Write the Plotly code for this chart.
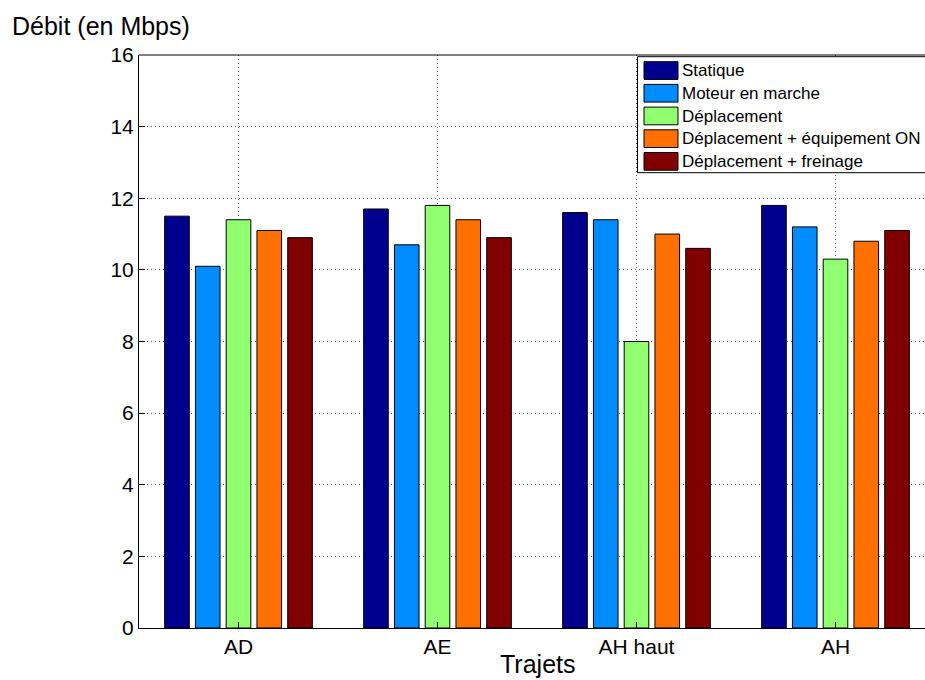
import plotly.graph_objects as go

categories = ["AD", "AE", "AH haut", "AH"]
series_names = ["Statique", "Moteur en marche", "Déplacement",
                "Déplacement + équipement ON", "Déplacement + freinage"]
statique = [11.5, 11.7, 11.6, 11.8]
moteur = [10.1, 10.7, 11.4, 11.2]
deplacement = [11.4, 11.8, 8.0, 10.3]
equipement = [11.1, 11.4, 11.0, 10.8]
freinage = [10.9, 10.9, 10.6, 11.1]
colors = ["#00008F", "#008CFF", "#90FF70", "#FF7000", "#800000"]
y_ticks = [0, 2, 4, 6, 8, 10, 12, 14, 16]

series = [statique, moteur, deplacement, equipement, freinage]

fig = go.Figure()
for name, vals, col in zip(series_names, series, colors):
    fig.add_trace(go.Bar(
        x=list(range(len(categories))), y=vals, name=name, showlegend=False,
        marker=dict(color=col, line=dict(color="black", width=1)),
    ))

font = "Liberation Sans, Arial, sans-serif"

# plot area in screen px (axes extend slightly beyond the visible window)
PL, PR_W, PT, PB = 139, 796, 55, 628
PH = PB - PT


def px(sx):
    return (sx - PL) / PR_W


def py(sy):
    return (PB - sy) / PH


shapes = [dict(type="line", xref="paper", yref="paper", x0=0, x1=1,
               y0=1, y1=1, line=dict(color="black", width=1))]
annotations = []

# legend box
shapes.append(dict(type="rect", xref="paper", yref="paper",
                   x0=px(637.5), x1=px(934), y0=py(172.7), y1=py(56.7),
                   fillcolor="white", line=dict(color="black", width=1),
                   layer="above"))
for i, (name, col) in enumerate(zip(series_names, colors)):
    top = 61.7 + 22.7 * i
    shapes.append(dict(type="rect", xref="paper", yref="paper",
                       x0=px(644), x1=px(678), y0=py(top + 17.7), y1=py(top),
                       fillcolor=col, line=dict(color="black", width=1),
                       layer="above"))
    annotations.append(dict(text=name, xref="paper", yref="paper",
                            x=px(680), y=py(top + 9), xanchor="left",
                            yanchor="middle", showarrow=False,
                            font=dict(size=17, family=font, color="black")))

annotations.append(dict(text="Débit (en Mbps)", xref="paper", yref="paper",
                        x=px(10), y=py(26), xanchor="left", yanchor="middle",
                        showarrow=False, font=dict(size=25, family=font)))
annotations.append(dict(text="Trajets", xref="paper", yref="paper",
                        x=px(537), y=py(664), xanchor="center", yanchor="middle",
                        showarrow=False, font=dict(size=25, family=font)))

fig.update_layout(
    width=935, height=680,
    margin=dict(l=139, r=0, t=55, b=52),
    paper_bgcolor="white", plot_bgcolor="white",
    barmode="group", bargap=0.227, bargroupgap=0.2,
    font=dict(family=font, size=21, color="black"),
    showlegend=False,
    xaxis=dict(
        tickmode="array", tickvals=list(range(len(categories))),
        ticktext=categories, range=[-0.5, 3.5],
        showline=True, linecolor="black", linewidth=1,
        ticks="inside", ticklen=6, tickcolor="black",
        showgrid=True, gridcolor="#666666", griddash="1px,3px", gridwidth=1,
        zeroline=False,
    ),
    yaxis=dict(
        range=[0, 16], tickmode="array", tickvals=y_ticks,
        showline=True, linecolor="black", linewidth=1,
        ticks="inside", ticklen=6, tickcolor="black",
        showgrid=True, gridcolor="#666666", griddash="1px,3px", gridwidth=1,
        zeroline=False,
    ),
    shapes=shapes,
    annotations=annotations,
)

fig.write_html(
    "out.html",
    config={"displayModeBar": False},
    post_script=("document.body.style.margin='0';"
                 "document.body.style.overflow='hidden';"
                 "document.documentElement.style.overflow='hidden';"),
)
